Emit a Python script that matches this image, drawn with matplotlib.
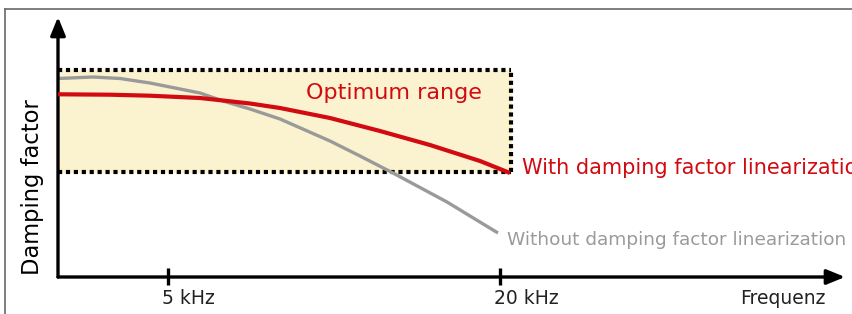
import matplotlib.pyplot as plt
from matplotlib.lines import Line2D

# curve positions (x: along frequency axis, y: damping factor)
red_x = [0, 52, 92, 142, 165, 192, 222, 272, 322, 372, 422, 452]
red_y = [182.7, 182.3, 181.3, 179, 176.5, 173.5, 169, 159, 146, 132, 116, 104]
gray_x = [0, 35, 62, 92, 142, 165, 192, 222, 272, 302, 335, 389, 440]
gray_y = [198.5, 200, 198.5, 194, 184, 176, 168, 158, 136, 121, 104, 75, 44]

range_x = (0, 453)
range_y = (105, 207)

tick_pos = [110, 442]
tick_labels = ['5 kHz', '20 kHz']

red = '#d20a11'
grey = '#9a9a9a'

W, H = 852, 314
fig = plt.figure(figsize=(W / 100, H / 100), dpi=100)
ax = fig.add_axes([58 / W, (H - 277) / H, (845 - 58) / W, (277 - 17) / H])
ax.set_xlim(0, 787)
ax.set_ylim(0, 260)
ax.axis('off')

# optimum range box
ax.fill_between(range_x, range_y[0], range_y[1], color='#fbf3cf', zorder=1)
dots = dict(color='black', lw=3, linestyle=(0, (1, 0.9)), dash_capstyle='butt', zorder=2)
ax.plot([range_x[0], range_x[1]], [range_y[1], range_y[1]], **dots)
ax.plot([range_x[0], range_x[1]], [range_y[0], range_y[0]], **dots)
ax.plot([range_x[1], range_x[1]], [range_y[0], range_y[1]], **dots)

# curves
ax.plot(gray_x, gray_y, color=grey, lw=2.4, zorder=3, solid_capstyle='butt',
        solid_joinstyle='round')
ax.plot(red_x, red_y, color=red, lw=3, zorder=4, solid_capstyle='butt',
        solid_joinstyle='round')

# axes with arrows
arrow = dict(arrowstyle='-|>,head_length=1.1,head_width=0.45',
             color='black', lw=2.4, shrinkA=0, shrinkB=0)
ax.annotate('', xy=(0, 1), xytext=(0, 0), xycoords='axes fraction',
            arrowprops=arrow, annotation_clip=False)
ax.annotate('', xy=(1, 0), xytext=(0, 0), xycoords='axes fraction',
            arrowprops=arrow, annotation_clip=False)

for p, lab in zip(tick_pos, tick_labels):
    ax.plot([p, p], [-8, 9], color='black', lw=2.4, clip_on=False, solid_capstyle='butt')
    ax.text(p - 6, -21, lab, ha='left', va='center', fontsize=13.5, color='#222222')

ax.text(767, -21, 'Frequenz', ha='right', va='center', fontsize=13.5, color='#222222')
ax.text(-25, 90, 'Damping factor', rotation=90, ha='center', va='center',
        fontsize=16.3, color='black')

ax.text(248, 184, 'Optimum range', ha='left', va='center', fontsize=16, color=red)
ax.text(464, 109, 'With damping factor linearization', ha='left', va='center',
        fontsize=15, color=red, clip_on=False)
ax.text(449, 37, 'Without damping factor linearization', ha='left', va='center',
        fontsize=13.3, color=grey)

# outer frame
fig.add_artist(Line2D([5 / W, 1], [1 - 9 / H, 1 - 9 / H], color='#6a6a6a', lw=1.2))
fig.add_artist(Line2D([5 / W, 5 / W], [0, 1 - 9 / H], color='#6a6a6a', lw=1.2))

fig.savefig('out.png', dpi=100)
